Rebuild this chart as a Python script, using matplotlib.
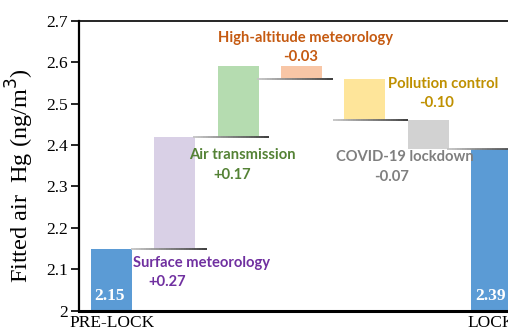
import numpy as np
import matplotlib
matplotlib.use("Agg")
import matplotlib.pyplot as plt
from matplotlib.collections import LineCollection

# waterfall data
categories = ["PRE-LOCK", "Surface meteorology", "Air transmission",
              "High-altitude meteorology", "Pollution control",
              "COVID-19 lockdown", "LOCK"]
start_value = 2.15
deltas = [0.27, 0.17, -0.03, -0.10, -0.07]
end_value = 2.39
tick_labels = ["PRE-LOCK", "", "", "", "", "", "LOCK"]

bar_colors = ["#5B9BD5", "#D9D0E6", "#B5DCB0", "#F8C6A6",
              "#FEE59A", "#D2D2D2", "#5B9BD5"]
text_colors = ["#7030A0", "#548235", "#C55A11", "#BF9000", "#7F7F7F"]

# connector lines: level and where they start (category units)
conn_levels = [2.15, 2.42, 2.56, 2.46, 2.39]
conn_starts = [0.31, 1.29, 2.30, 3.50, 5.30]
conn_len = 1.19

# cumulative bottoms/heights
bottoms, heights = [0], [start_value]
level = start_value
for d in deltas:
    bottoms.append(min(level, level + d))
    heights.append(abs(d))
    level += d
bottoms.append(0)
heights.append(end_value)

fig = plt.figure(figsize=(5.08, 3.31), dpi=100)
ax = fig.add_axes([0.1555, 0.0613, 0.876, 0.8762])
x = np.arange(len(categories))
ax.bar(x, heights, bottom=bottoms, width=0.647, color=bar_colors, zorder=2)

# gradient grey connectors
for lv, xs in zip(conn_levels, conn_starts):
    n = 30
    xx = np.linspace(xs, xs + conn_len, n + 1)
    segs = [[(xx[i], lv), (xx[i + 1], lv)] for i in range(n)]
    cols = plt.cm.Greys(np.linspace(0.35, 0.85, n))
    ax.add_collection(LineCollection(segs, colors=cols, linewidths=1.3, zorder=3))

ax.set_xlim(-0.516, 6.516)
ax.set_ylim(2.0, 2.7)
ax.set_yticks(np.arange(2.0, 2.71, 0.1))
ax.set_yticklabels(["2", "2.1", "2.2", "2.3", "2.4", "2.5", "2.6", "2.7"],
                   fontfamily="Liberation Serif", fontsize=12.5)
ax.set_xticks(x)
ax.set_xticklabels(tick_labels, fontfamily="Liberation Serif", fontsize=12.5)
ax.tick_params(axis="x", length=0, pad=3)
ax.tick_params(axis="y", length=6, width=1.2, pad=2)
ax.spines["right"].set_visible(False)
ax.spines["left"].set_linewidth(1.6)
ax.spines["bottom"].set_linewidth(2.2)
ax.spines["top"].set_linewidth(1.2)
ax.text(-0.133, 0.466, "Fitted air  Hg (ng/m$^3$)", transform=ax.transAxes,
        rotation=90, ha="center", va="center",
        fontfamily="Liberation Serif", fontsize=17.5)

# value labels on end bars
ax.text(0 - 0.03, 2.015, f"{start_value:.2f}", color="white", fontweight="bold",
        fontfamily="Liberation Serif", fontsize=12.5, ha="center", va="bottom")
ax.text(6 - 0.02, 2.015, f"{end_value:.2f}", color="white", fontweight="bold",
        fontfamily="Liberation Serif", fontsize=12.5, ha="center", va="bottom")

# annotations (name, signed delta)
name_pos = [(1.42, 2.115), (2.06, 2.376), (3.07, 2.658), (5.24, 2.547), (4.63, 2.371)]
val_pos = [(0.88, 2.069), (1.91, 2.328), (2.98, 2.613), (5.14, 2.502), (4.42, 2.323)]
for i in range(len(deltas)):
    ax.text(*name_pos[i], categories[i + 1], color=text_colors[i], fontweight="bold",
            fontfamily="Lato", fontsize=10.6, ha="center", va="center")
    ax.text(*val_pos[i], f"{deltas[i]:+.2f}", color=text_colors[i], fontweight="bold",
            fontfamily="Lato", fontsize=10.6, ha="center", va="center")

fig.savefig("out.png", dpi=100)
